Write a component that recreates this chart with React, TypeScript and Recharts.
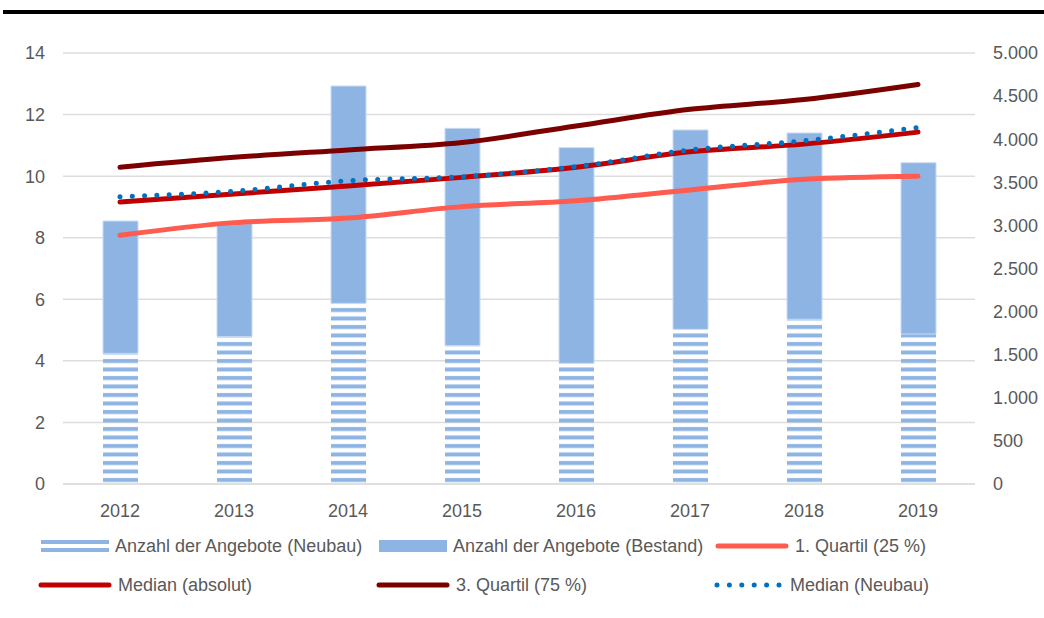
import { ComposedChart, Bar, Line, XAxis, YAxis, CartesianGrid } from 'recharts';

const years = ['2012', '2013', '2014', '2015', '2016', '2017', '2018', '2019'];
// Anzahl der Angebote (rechte Achse)
const neubau = [1516, 1709, 2096, 1605, 1400, 1794, 1911, 1740];
const bestand = [1535, 1311, 2521, 2521, 2502, 2313, 2161, 1987];
// Mietpreise (linke Achse)
const quartil1 = [8.08, 8.49, 8.64, 9.01, 9.2, 9.55, 9.9, 10.0];
const medianAbs = [9.16, 9.42, 9.68, 9.96, 10.29, 10.79, 11.04, 11.43];
const quartil3 = [10.29, 10.61, 10.85, 11.09, 11.63, 12.17, 12.49, 12.98];
const medianNeubau = [9.33, 9.51, 9.85, 9.98, 10.31, 10.85, 11.15, 11.58];

const leftTicks = [0, 2, 4, 6, 8, 10, 12, 14];
const rightTicks = [0, 500, 1000, 1500, 2000, 2500, 3000, 3500, 4000, 4500, 5000];

const data = years.map((year, i) => ({
  year,
  neubau: neubau[i],
  bestand: bestand[i],
  q1: quartil1[i],
  median: medianAbs[i],
  q3: quartil3[i],
  medianNeubau: medianNeubau[i],
}));

const BAR_BLUE = '#8EB4E3';
const FONT = '"Liberation Sans", Arial, sans-serif';
const TEXT = '#595959';

const formatThousands = (n: number) => n.toString().replace(/\B(?=(\d{3})+(?!\d))/g, '.');

const LegendIcon = ({ kind }: { kind: string }) => {
  if (kind === 'neubau') {
    return (
      <svg width={68} height={12}>
        <rect x={0} y={0} width={68} height={4} fill={BAR_BLUE} />
        <rect x={0} y={8} width={68} height={4} fill={BAR_BLUE} />
      </svg>
    );
  }
  if (kind === 'bestand') {
    return (
      <svg width={68} height={12}>
        <rect x={0} y={0} width={68} height={12} fill={BAR_BLUE} />
      </svg>
    );
  }
  if (kind === 'dotted') {
    return (
      <svg width={70} height={12}>
        <line x1={3} y1={6} x2={66} y2={6} stroke="#0070C0" strokeWidth={5}
          strokeDasharray="0 12.4" strokeLinecap="round" />
      </svg>
    );
  }
  return (
    <svg width={74} height={12}>
      <line x1={3} y1={6} x2={71} y2={6} stroke={kind} strokeWidth={5} strokeLinecap="round" />
    </svg>
  );
};

const legendItems = [
  { label: 'Anzahl der Angebote (Neubau)', kind: 'neubau', left: 41, top: 0 },
  { label: 'Anzahl der Angebote (Bestand)', kind: 'bestand', left: 379, top: 0 },
  { label: '1. Quartil (25 %)', kind: '#FF5B4F', left: 715, top: 0 },
  { label: 'Median (absolut)', kind: '#C00000', left: 38, top: 39 },
  { label: '3. Quartil (75 %)', kind: '#7B0000', left: 376, top: 39 },
  { label: 'Median (Neubau)', kind: 'dotted', left: 714, top: 39 },
];

const ChartLegend = () => (
  <div style={{ position: 'absolute', left: 0, top: 535, width: 1044, height: 80 }}>
    {legendItems.map((item) => (
      <div
        key={item.label}
        style={{
          position: 'absolute',
          left: item.left,
          top: item.top,
          display: 'flex',
          alignItems: 'center',
          gap: 6,
          fontFamily: FONT,
          fontSize: 18,
          color: TEXT,
          whiteSpace: 'nowrap',
          lineHeight: '22px',
        }}
      >
        <LegendIcon kind={item.kind} />
        <span>{item.label}</span>
      </div>
    ))}
  </div>
);

const App = () => {
  return (
    <div style={{ position: 'absolute', left: 0, top: 0, width: 1044, height: 618, background: '#fff' }}>
      <div style={{ position: 'absolute', left: 3, right: 0, top: 10, height: 4, background: '#000' }} />
      <ComposedChart
        width={1044}
        height={618}
        data={data}
        margin={{ top: 53, right: 0, bottom: 104, left: 8 }}
      >
        <defs>
          <pattern id="stripes" patternUnits="userSpaceOnUse" x={0} y={0} width={8} height={8.5}>
            <rect x={0} y={2} width={8} height={4} fill={BAR_BLUE} />
          </pattern>
        </defs>
        <CartesianGrid yAxisId="left" vertical={false} stroke="#DDDDDD" strokeWidth={1.5} />
        <XAxis
          dataKey="year"
          height={30}
          axisLine={{ stroke: '#DDDDDD', strokeWidth: 1.5 }}
          tickLine={false}
          tickSize={0}
          tickMargin={20}
          tick={{ fill: TEXT, fontSize: 18, fontFamily: FONT }}
        />
        <YAxis
          yAxisId="left"
          orientation="left"
          width={55}
          domain={[0, 14]}
          ticks={leftTicks}
          axisLine={false}
          tickLine={false}
          tickSize={0}
          tickMargin={18}
          tick={{ fill: TEXT, fontSize: 18, fontFamily: FONT }}
        />
        <YAxis
          yAxisId="right"
          orientation="right"
          width={69}
          domain={[0, 5000]}
          ticks={rightTicks}
          tickFormatter={formatThousands}
          axisLine={false}
          tickLine={false}
          tickSize={0}
          tickMargin={18}
          tick={{ fill: TEXT, fontSize: 18, fontFamily: FONT, textAnchor: 'start' }}
        />
        <Bar yAxisId="right" dataKey="neubau" stackId="a" barSize={35} fill="url(#stripes)" isAnimationActive={false} />
        <Bar yAxisId="right" dataKey="bestand" stackId="a" barSize={35} fill={BAR_BLUE}
          stroke="#C9DAF2" strokeWidth={1} isAnimationActive={false} />
        <Line yAxisId="left" type="monotone" dataKey="q1" stroke="#FF5B4F" strokeWidth={5}
          strokeLinecap="round" dot={false} isAnimationActive={false} />
        <Line yAxisId="left" type="monotone" dataKey="median" stroke="#C00000" strokeWidth={5}
          strokeLinecap="round" dot={false} isAnimationActive={false} />
        <Line yAxisId="left" type="monotone" dataKey="q3" stroke="#7B0000" strokeWidth={5}
          strokeLinecap="round" dot={false} isAnimationActive={false} />
        <Line yAxisId="left" type="monotone" dataKey="medianNeubau" stroke="#0070C0" strokeWidth={5}
          strokeDasharray="0 12.3" strokeLinecap="round" dot={false} isAnimationActive={false} />
      </ComposedChart>
      <ChartLegend />
    </div>
  );
};

export default App;
